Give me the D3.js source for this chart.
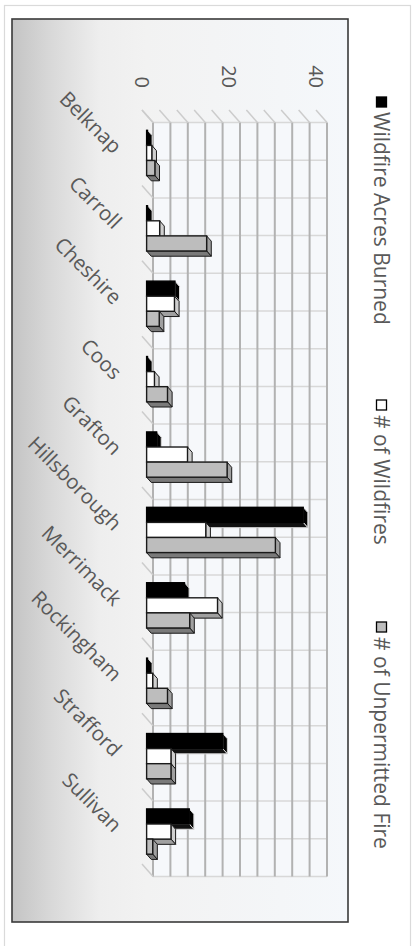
<!DOCTYPE html>
<html>
<head>
<meta charset="utf-8">
<script src="https://cdn.jsdelivr.net/npm/d3@7"></script>
<style>
  html, body { margin: 0; padding: 0; background: #ffffff; }
  svg { display: block; }
  text { font-family: "Open Sans", "Noto Sans", sans-serif; fill: #595959; }
</style>
</head>
<body>
<svg id="chart" width="413" height="946"></svg>
<script>
// ---------- data ----------
const categories = ["Belknap", "Carroll", "Cheshire", "Coos", "Grafton",
                    "Hillsborough", "Merrimack", "Rockingham", "Strafford", "Sullivan"];
const acresBurned   = [0.2, 0.2, 6.5, 0.2, 2.3, 36, 8.7, 0.2, 17.5, 9.8];
const numWildfires  = [1.2, 3, 6.4, 1.8, 9.4, 13.6, 16.3, 1.4, 5.6, 5.6];
const numUnpermitted = [1.9, 13.8, 2.9, 4.8, 18.5, 29.6, 9.9, 4.8, 5.6, 1.4];
const seriesNames = ["Wildfire Acres Burned", "# of Wildfires", "# of Unpermitted Fire"];
const valueTicks = [0, 20, 40];

// ---------- styles ----------
const seriesStyle = [
  { front: "#000000", end: "#000000", side: "#111111", stroke: "#000000", sideStroke: "#d8d8d8" },
  { front: "#ffffff", end: "#cfcfcf", side: "#a0a0a0", stroke: "#1a1a1a", sideStroke: "#1a1a1a" },
  { front: "#bdbdbd", end: "#a0a0a0", side: "#7a7a7a", stroke: "#1a1a1a", sideStroke: "#1a1a1a" }
];

const svg = d3.select("#chart");
const defs = svg.append("defs");
const grad = defs.append("linearGradient").attr("id", "bg").attr("x1", "0").attr("x2", "1").attr("y1", "0").attr("y2", "0");
grad.append("stop").attr("offset", "0%").attr("stop-color", "#c4c4c4");
grad.append("stop").attr("offset", "12%").attr("stop-color", "#d9d9d9");
grad.append("stop").attr("offset", "26%").attr("stop-color", "#eeeeee");
grad.append("stop").attr("offset", "40%").attr("stop-color", "#f2f2f2");
grad.append("stop").attr("offset", "100%").attr("stop-color", "#f5f8fb");

// outer light border
svg.append("rect").attr("x", 4.5).attr("y", 5.5).attr("width", 406).attr("height", 960)
  .attr("fill", "#ffffff").attr("stroke", "#dadada").attr("stroke-width", 1.2);
// inner chart frame
svg.append("rect").attr("x", 12).attr("y", 19).attr("width", 336).attr("height", 903)
  .attr("fill", "url(#bg)").attr("stroke", "#3a3a3a").attr("stroke-width", 1.6);

// ---------- scales (front plane, chart rotated 90deg clockwise) ----------
const x = d3.scaleLinear().domain([0, 40]).range([142, 316]);
const y = d3.scaleBand().domain(categories).range([110, 864]);
const ys = d3.scaleBand().domain(seriesNames).range([0, y.bandwidth()]).paddingOuter(1);
const D = [11, 12.5];          // full depth offset (back = right & down)
const f1 = 0.42, f2 = 0.84;    // bar front/back depth fractions

const gridVals = d3.range(0, 41, 4);
const yTop = y.range()[0], yBot = y.range()[1];

// back wall
const g = svg.append("g");
g.append("rect").attr("x", x(0) + D[0]).attr("y", yTop + D[1])
  .attr("width", x(40) - x(0)).attr("height", yBot - yTop).attr("fill", "#f6f8fb");
const halfLines = [];
categories.forEach(c => { halfLines.push(y(c)); halfLines.push(y(c) + y.bandwidth() / 2); });
halfLines.push(yBot);
g.selectAll(".hl").data(halfLines).join("line")
  .attr("x1", x(0) + D[0]).attr("x2", x(40) + D[0])
  .attr("y1", d => d + D[1]).attr("y2", d => d + D[1])
  .attr("stroke", "#d8d8d8").attr("stroke-width", 1.5);
g.selectAll(".vl").data(gridVals).join("line")
  .attr("x1", d => x(d) + D[0]).attr("x2", d => x(d) + D[0])
  .attr("y1", yTop + D[1]).attr("y2", yBot + D[1])
  .attr("stroke", "#b2b2b2").attr("stroke-width", 2);
g.selectAll(".sd").data(gridVals).join("line")
  .attr("x1", d => x(d)).attr("y1", yTop)
  .attr("x2", d => x(d) + D[0]).attr("y2", yTop + D[1])
  .attr("stroke", "#cccccc").attr("stroke-width", 1.5);
const bounds = categories.map(c => y(c)).concat([yBot]);
g.selectAll(".fd").data(bounds).join("line")
  .attr("x1", x(0)).attr("y1", d => d)
  .attr("x2", x(0) + D[0]).attr("y2", d => d + D[1])
  .attr("stroke", "#cccccc").attr("stroke-width", 1.5);

// ---------- bars ----------
const seriesValues = [acresBurned, numWildfires, numUnpermitted];
const o1 = [D[0] * f1, D[1] * f1];
const dd = [D[0] * (f2 - f1), D[1] * (f2 - f1)];
const bars = svg.append("g");
categories.forEach((c, i) => {
  seriesNames.forEach((s, j) => {
    const v = seriesValues[j][i];
    const st = seriesStyle[j];
    const xa = x(0) + o1[0], xb = x(v) + o1[0];
    const ya = y(c) + ys(s) + o1[1], h = ys.bandwidth();
    const yb = ya + h;
    const bg = bars.append("g");
    bg.append("polygon")
      .attr("points", [[xb, ya], [xb + dd[0], ya + dd[1]], [xb + dd[0], yb + dd[1]], [xb, yb]].join(" "))
      .attr("fill", st.end).attr("stroke", st.sideStroke).attr("stroke-width", 1).attr("stroke-linejoin", "round");
    bg.append("polygon")
      .attr("points", [[xa, yb], [xb, yb], [xb + dd[0], yb + dd[1]], [xa + dd[0], yb + dd[1]]].join(" "))
      .attr("fill", st.side).attr("stroke", st.sideStroke).attr("stroke-width", 1).attr("stroke-linejoin", "round");
    bg.append("rect").attr("x", xa).attr("y", ya).attr("width", Math.max(0, xb - xa)).attr("height", h)
      .attr("fill", st.front).attr("stroke", st.stroke).attr("stroke-width", 1.4);
  });
});

// ---------- value axis labels (top) ----------
svg.append("g").selectAll("text").data(valueTicks).join("text")
  .attr("transform", d => `translate(${x(d)},88) rotate(90)`)
  .attr("text-anchor", "end").attr("dy", "0.35em")
  .style("font-size", "20px")
  .text(d => d);

// ---------- category labels (left, slanted) ----------
svg.append("g").selectAll("text").data(categories).join("text")
  .attr("transform", d => `translate(118,${y(d) + y.bandwidth() / 2 + 2}) rotate(45)`)
  .attr("text-anchor", "end").attr("dy", "0.35em")
  .style("font-size", "20.5px")
  .text(d => d);

// ---------- legend (right, rotated) ----------
const legendY = [97, 400, 622];
const legendFill = ["#000000", "#ffffff", "#bdbdbd"];
const lg = svg.append("g");
seriesNames.forEach((s, j) => {
  lg.append("rect").attr("x", 376.5).attr("y", legendY[j]).attr("width", 10).attr("height", 10)
    .attr("fill", legendFill[j]).attr("stroke", "#000").attr("stroke-width", 1.3);
  lg.append("text")
    .attr("transform", `translate(381,${legendY[j] + 15}) rotate(90)`)
    .attr("text-anchor", "start").attr("dy", "0.35em")
    .style("font-size", "21px")
    .text(s);
});
</script>
</body>
</html>
